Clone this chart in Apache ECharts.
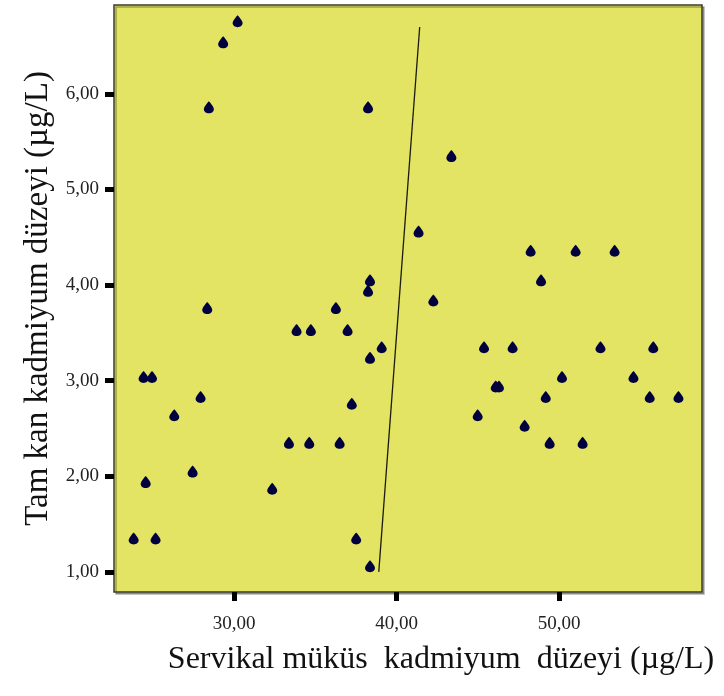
<!DOCTYPE html>
<html>
<head>
<meta charset="utf-8">
<script src="https://cdn.jsdelivr.net/npm/echarts@6/dist/echarts.min.js"></script>
<style>
  html, body { margin: 0; padding: 0; background: #ffffff; }
  #chart { width: 724px; height: 696px; }
</style>
</head>
<body>
<div id="chart"></div>
<script>
// Servikal müküs (x) ve tam kan (y) kadmiyum düzeyleri, µg/L
const mucusCd = [
  23.81, 24.42, 24.55, 24.94, 25.16, 26.31, 27.44, 27.93, 28.34, 28.44,
  29.32, 30.21, 32.34, 33.37, 33.84, 34.62, 34.72, 36.26, 36.49, 36.98,
  37.24, 37.51, 38.24, 38.36, 38.24, 38.36, 38.36, 39.08, 41.35, 42.26,
  43.37, 44.99, 45.38, 46.10, 46.30, 47.14, 47.88, 48.25, 48.89, 49.18,
  49.42, 50.18, 51.02, 51.45, 52.55, 53.42, 54.58, 55.58, 55.80, 57.35
];
const bloodCd = [
  1.35, 3.04, 1.94, 3.04, 1.35, 2.64, 2.05, 2.83, 3.76, 5.86,
  6.54, 6.76, 1.87, 2.35, 3.53, 2.35, 3.53, 3.76, 2.35, 3.53,
  2.76, 1.35, 5.86, 4.05, 3.94, 3.24, 1.06, 3.35, 4.56, 3.84,
  5.35, 2.64, 3.35, 2.94, 2.94, 3.35, 2.53, 4.36, 4.05, 2.83,
  2.35, 3.04, 4.36, 2.35, 3.35, 4.36, 3.04, 2.83, 3.35, 2.83
];

// Fit line end points
const fitX = [38.90, 41.42];
const fitY = [1.00, 6.70];

// Tick values
const xTicks = [30, 40, 50];
const yTicks = [1, 2, 3, 4, 5, 6];

const points = mucusCd.map((x, i) => [x, bloodCd[i]]);
const fitLine = fitX.map((x, i) => [x, fitY[i]]);

const fmt = v => v.toFixed(2).replace('.', ',');
const serif = '"Liberation Serif", "Times New Roman", serif';
const drop = 'path://M50,0 C50,0 10,50 10,76 C10,99 28,116 50,116 C72,116 90,99 90,76 C90,50 50,0 50,0 Z';

const chart = echarts.init(document.getElementById('chart'), null, { renderer: 'canvas' });
chart.setOption({
  animation: false,
  backgroundColor: '#ffffff',
  grid: {
    left: 114, right: 22, top: 5, bottom: 104,
    show: true,
    backgroundColor: '#e3e464',
    borderColor: '#3d3c28',
    borderWidth: 1.5,
    shadowColor: 'rgba(0,0,0,0.3)',
    shadowOffsetX: 2,
    shadowOffsetY: 2,
    shadowBlur: 0
  },
  xAxis: {
    type: 'value',
    min: 22.6,
    max: 58.8,
    name: 'Servikal müküs  kadmiyum  düzeyi (µg/L)',
    nameLocation: 'middle',
    nameGap: 52,
    nameTextStyle: { fontFamily: serif, fontSize: 32, color: '#111', padding: [0, 0, 0, 66] },
    axisLine: { show: false },
    splitLine: { show: false },
    axisTick: { show: true, customValues: xTicks, length: 9, lineStyle: { color: '#000', width: 5 } },
    axisLabel: { customValues: xTicks, formatter: fmt, margin: 23, fontFamily: serif, fontSize: 19, color: '#222' }
  },
  yAxis: {
    type: 'value',
    min: 0.79,
    max: 6.93,
    name: 'Tam kan kadmiyum düzeyi (µg/L)',
    nameLocation: 'middle',
    nameGap: 58,
    nameTextStyle: { fontFamily: serif, fontSize: 33, color: '#111' },
    axisLine: { show: false },
    splitLine: { show: false },
    axisTick: { show: true, customValues: yTicks, length: 9, lineStyle: { color: '#000', width: 5 } },
    axisLabel: { customValues: yTicks, formatter: fmt, margin: 15, fontFamily: serif, fontSize: 19, color: '#222' }
  },
  series: [
    {
      type: 'line',
      data: fitLine,
      symbol: 'none',
      lineStyle: { color: '#1b1b10', width: 1.3 },
      z: 2
    },
    {
      type: 'scatter',
      data: points,
      symbol: drop,
      symbolSize: [10, 12],
      itemStyle: { color: '#00003f', opacity: 1 },
      z: 3
    }
  ]
});
</script>
</body>
</html>
